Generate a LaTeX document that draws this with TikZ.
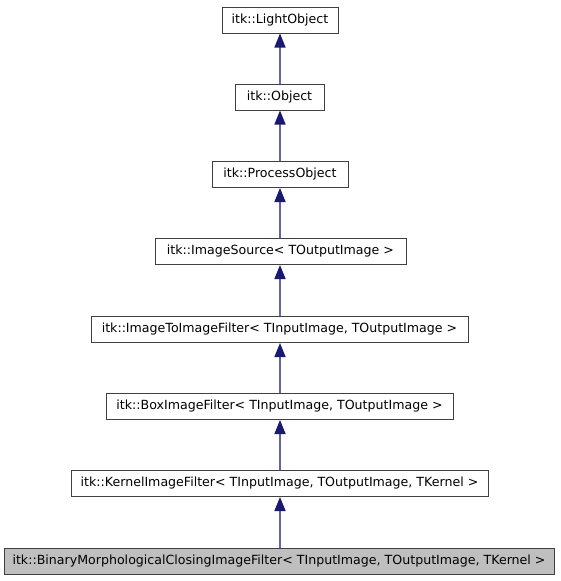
\documentclass[tikz,border=0pt]{standalone}
\usepackage{fontspec}
\setmainfont{DejaVu Sans}
\usetikzlibrary{arrows.meta}
\definecolor{edgeline}{RGB}{100,100,165}
\definecolor{edgehead}{RGB}{25,25,112}
\definecolor{hlfill}{RGB}{191,191,191}
\tikzset{
  cls/.style={draw=black!75, line width=1pt, fill=white, minimum height=26pt, inner sep=0pt, font=\fontsize{12.6}{14}\selectfont, anchor=center},
  hl/.style={cls, fill=hlfill},
  inh/.style={draw=edgeline, line width=1.6pt, -{Triangle[length=14pt,width=11pt,color=edgehead]}}
}
\begin{document}
\begin{tikzpicture}[x=1pt,y=-1pt]
\useasboundingbox (0,0) rectangle (560,581);
\node[cls, minimum width=116pt] (n1) at (280,20) {itk::LightObject};
\node[cls, minimum width=89pt] (n2) at (279.5,97) {itk::Object};
\node[cls, minimum width=136pt] (n3) at (280,174.5) {itk::ProcessObject};
\node[cls, minimum width=251pt] (n4) at (280.5,251.5) {itk::ImageSource< TOutputImage >};
\node[cls, minimum width=377pt] (n5) at (279.5,329.5) {itk::ImageToImageFilter< TInputImage, TOutputImage >};
\node[cls, minimum width=347pt] (n6) at (279.5,406.5) {itk::BoxImageFilter< TInputImage, TOutputImage >};
\node[cls, minimum width=417pt] (n7) at (279.5,483.5) {itk::KernelImageFilter< TInputImage, TOutputImage, TKernel >};
\node[hl, minimum width=550pt] (n8) at (279,561) {itk::BinaryMorphologicalClosingImageFilter< TInputImage, TOutputImage, TKernel >};
\draw[inh] (n2.north -| n1.south) -- (n1.south);
\draw[inh] (n3.north -| n1.south) -- (n2.south -| n1.south);
\draw[inh] (n4.north -| n1.south) -- (n3.south -| n1.south);
\draw[inh] (n5.north -| n1.south) -- (n4.south -| n1.south);
\draw[inh] (n6.north -| n1.south) -- (n5.south -| n1.south);
\draw[inh] (n7.north -| n1.south) -- (n6.south -| n1.south);
\draw[inh] (n8.north -| n1.south) -- (n7.south -| n1.south);
\end{tikzpicture}
\end{document}
